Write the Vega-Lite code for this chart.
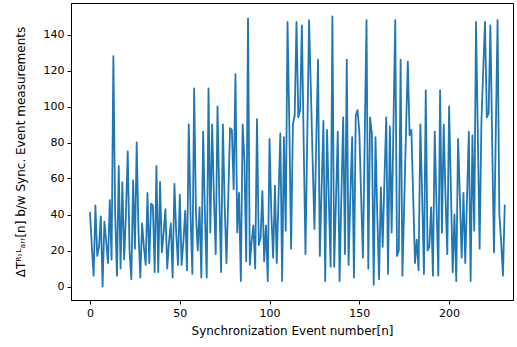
{
  "$schema": "https://vega.github.io/schema/vega-lite/v6.json",
  "autosize": "none",
  "width": 442,
  "height": 297,
  "padding": {"left": 71, "top": 3, "right": 4, "bottom": 47},
  "background": "white",
  "config": {
    "view": {"stroke": "black", "strokeWidth": 1},
    "font": "DejaVu Sans",
    "axis": {
      "domainColor": "black", "tickColor": "black", "labelColor": "black", "titleColor": "black",
      "grid": false, "tickSize": 4, "labelFontSize": 11, "titleFontSize": 12, "titleFontWeight": "normal",
      "labelFont": "DejaVu Sans", "titleFont": "DejaVu Sans"
    }
  },
  "data": {"values": [
    {"n":0,"v":41},{"n":1,"v":22},{"n":2,"v":6},{"n":3,"v":45},{"n":4,"v":17},{"n":5,"v":22},{"n":6,"v":39},{"n":7,"v":0},{"n":8,"v":36},{"n":9,"v":25},
    {"n":10,"v":13},{"n":11,"v":48},{"n":12,"v":15},{"n":13,"v":128},{"n":14,"v":40},{"n":15,"v":6},{"n":16,"v":67},{"n":17,"v":10},{"n":18,"v":58},{"n":19,"v":15},
    {"n":20,"v":40},{"n":21,"v":75},{"n":22,"v":20},{"n":23,"v":4},{"n":24,"v":59},{"n":25,"v":21},{"n":26,"v":80},{"n":27,"v":30},{"n":28,"v":5},{"n":29,"v":35},
    {"n":30,"v":22},{"n":31,"v":12},{"n":32,"v":52},{"n":33,"v":13},{"n":34,"v":46},{"n":35,"v":45},{"n":36,"v":8},{"n":37,"v":67},{"n":38,"v":8},{"n":39,"v":58},
    {"n":40,"v":19},{"n":41,"v":30},{"n":42,"v":43},{"n":43,"v":10},{"n":44,"v":25},{"n":45,"v":35},{"n":46,"v":5},{"n":47,"v":57},{"n":48,"v":30},{"n":49,"v":12},
    {"n":50,"v":51},{"n":51,"v":12},{"n":52,"v":25},{"n":53,"v":42},{"n":54,"v":9},{"n":55,"v":90},{"n":56,"v":40},{"n":57,"v":7},{"n":58,"v":110},{"n":59,"v":40},
    {"n":60,"v":20},{"n":61,"v":44},{"n":62,"v":5},{"n":63,"v":86},{"n":64,"v":40},{"n":65,"v":5},{"n":66,"v":110},{"n":67,"v":30},{"n":68,"v":90},{"n":69,"v":50},
    {"n":70,"v":18},{"n":71,"v":100},{"n":72,"v":50},{"n":73,"v":8},{"n":74,"v":90},{"n":75,"v":45},{"n":76,"v":13},{"n":77,"v":50},{"n":78,"v":88},{"n":79,"v":87},
    {"n":80,"v":54},{"n":81,"v":118},{"n":82,"v":30},{"n":83,"v":52},{"n":84,"v":3},{"n":85,"v":90},{"n":86,"v":70},{"n":87,"v":14},{"n":88,"v":149},{"n":89,"v":12},
    {"n":90,"v":25},{"n":91,"v":34},{"n":92,"v":10},{"n":93,"v":93},{"n":94,"v":23},{"n":95,"v":27},{"n":96,"v":53},{"n":97,"v":14},{"n":98,"v":34},{"n":99,"v":3},
    {"n":100,"v":82},{"n":101,"v":40},{"n":102,"v":16},{"n":103,"v":56},{"n":104,"v":13},{"n":105,"v":50},{"n":106,"v":85},{"n":107,"v":3},{"n":108,"v":83},{"n":109,"v":31},
    {"n":110,"v":147},{"n":111,"v":90},{"n":112,"v":21},{"n":113,"v":90},{"n":114,"v":95},{"n":115,"v":147},{"n":116,"v":94},{"n":117,"v":98},{"n":118,"v":145},{"n":119,"v":80},
    {"n":120,"v":18},{"n":121,"v":83},{"n":122,"v":148},{"n":123,"v":110},{"n":124,"v":70},{"n":125,"v":32},{"n":126,"v":80},{"n":127,"v":126},{"n":128,"v":17},{"n":129,"v":55},
    {"n":130,"v":92},{"n":131,"v":3},{"n":132,"v":87},{"n":133,"v":49},{"n":134,"v":11},{"n":135,"v":150},{"n":136,"v":11},{"n":137,"v":48},{"n":138,"v":86},{"n":139,"v":3},
    {"n":140,"v":50},{"n":141,"v":94},{"n":142,"v":18},{"n":143,"v":126},{"n":144,"v":12},{"n":145,"v":50},{"n":146,"v":83},{"n":147,"v":5},{"n":148,"v":95},{"n":149,"v":98},
    {"n":150,"v":86},{"n":151,"v":50},{"n":152,"v":16},{"n":153,"v":82},{"n":154,"v":148},{"n":155,"v":10},{"n":156,"v":94},{"n":157,"v":85},{"n":158,"v":1},{"n":159,"v":83},
    {"n":160,"v":40},{"n":161,"v":4},{"n":162,"v":55},{"n":163,"v":22},{"n":164,"v":60},{"n":165,"v":94},{"n":166,"v":7},{"n":167,"v":89},{"n":168,"v":30},{"n":169,"v":89},
    {"n":170,"v":148},{"n":171,"v":17},{"n":172,"v":20},{"n":173,"v":126},{"n":174,"v":6},{"n":175,"v":46},{"n":176,"v":86},{"n":177,"v":125},{"n":178,"v":84},{"n":179,"v":87},
    {"n":180,"v":50},{"n":181,"v":13},{"n":182,"v":26},{"n":183,"v":9},{"n":184,"v":90},{"n":185,"v":50},{"n":186,"v":7},{"n":187,"v":109},{"n":188,"v":20},{"n":189,"v":22},
    {"n":190,"v":44},{"n":191,"v":6},{"n":192,"v":86},{"n":193,"v":45},{"n":194,"v":6},{"n":195,"v":109},{"n":196,"v":30},{"n":197,"v":90},{"n":198,"v":50},{"n":199,"v":18},
    {"n":200,"v":100},{"n":201,"v":55},{"n":202,"v":8},{"n":203,"v":40},{"n":204,"v":3},{"n":205,"v":82},{"n":206,"v":50},{"n":207,"v":16},{"n":208,"v":52},{"n":209,"v":13},
    {"n":210,"v":50},{"n":211,"v":86},{"n":212,"v":3},{"n":213,"v":84},{"n":214,"v":31},{"n":215,"v":147},{"n":216,"v":85},{"n":217,"v":21},{"n":218,"v":91},{"n":219,"v":120},
    {"n":220,"v":147},{"n":221,"v":94},{"n":222,"v":96},{"n":223,"v":145},{"n":224,"v":80},{"n":225,"v":19},{"n":226,"v":85},{"n":227,"v":148},{"n":228,"v":40},{"n":229,"v":25},
    {"n":230,"v":6},{"n":231,"v":45}
  ]},
  "mark": {"type": "line", "color": "#1f77b4", "strokeWidth": 1.8, "strokeJoin": "round", "strokeCap": "round"},
  "encoding": {
    "x": {
      "field": "n", "type": "quantitative",
      "scale": {"domain": [-10.6, 235.6], "nice": false, "zero": false},
      "axis": {"values": [0, 50, 100, 150, 200], "title": "Synchronization Event number[n]", "titlePadding": 7, "labelPadding": 3}
    },
    "y": {
      "field": "v", "type": "quantitative",
      "scale": {"domain": [-7.5, 157.5], "nice": false, "zero": false},
      "axis": {"values": [0, 20, 40, 60, 80, 100, 120, 140], "title": "ΔTᴿ˒ᴸₐᵣᵣ[n] b/w Sync. Event measurements", "titlePadding": 16, "labelPadding": 3}
    }
  }
}
